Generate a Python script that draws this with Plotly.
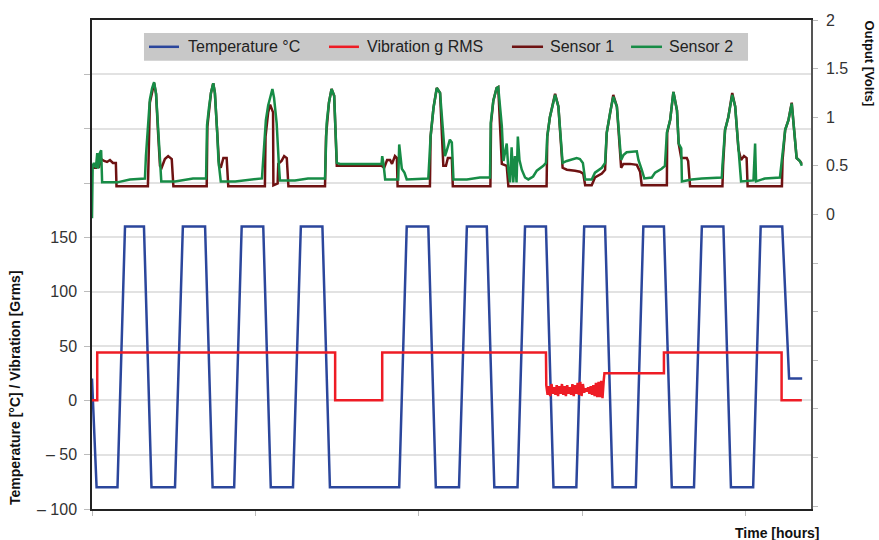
import plotly.graph_objects as go

# ---------------- data (time in hours) ----------------
temp_t = [0, 1.4, 7.8, 10.1, 15.9, 18.2, 25.4, 27.8, 34.6, 36.9, 43.5, 45.8, 52.4, 54.7,
          61.5, 63.9, 70.5, 72.8, 94.0, 96.3, 102.9, 105.2, 112.3, 114.7, 120.8, 123.1,
          130.2, 132.5, 138.9, 141.2, 148.2, 150.6, 157.0, 159.3, 166.4, 168.7, 175.0,
          177.4, 184.2, 186.6, 193.2, 195.5, 202.3, 204.6, 211.2, 213.3, 217.3]
temp_v = [20] + [-80, -80, 160, 160] * 11 + [20, 20]

vib_t_a = [0, 1.6, 1.6, 74.4, 74.4, 88.8, 88.8, 138.9]
vib_v_a = [0, 0, 44, 44, 0, 0, 44, 44]
vib_noise_t = [139.0, 139.4, 139.8, 140.2, 140.6, 141.0, 141.4, 141.8, 142.2, 142.6,
               143.0, 143.4, 143.8, 144.2, 144.6, 145.0, 145.4, 145.8, 146.2, 146.6,
               147.0, 147.4, 147.8, 148.2, 148.6, 149.0, 149.4, 149.8, 150.2, 150.6,
               151.0, 151.4, 151.8, 152.2, 152.6, 153.0, 153.4, 153.8, 154.2, 154.6,
               155.0, 155.4, 155.8, 156.2, 156.6]
vib_noise_v = [14, 5, 13, 4, 15, 6, 12, 5, 14, 4,
               13, 6, 15, 5, 13, 4, 14, 6, 12, 5,
               15, 4, 14, 6, 16, 5, 17, 4, 15, 7,
               11, 8, 12, 6, 13, 5, 14, 4, 16, 3,
               17, 3, 18, 2, 19]
vib_t_b = [156.8, 175.0, 175.0, 211.0, 211.0, 217.2]
vib_v_b = [25, 25, 44, 44, 0, 0]

s1_t = [0.2, 1.2, 1.7, 2.1, 2.8, 3.7, 4.6, 5.5, 6.4, 7.3,
        7.5, 17.1, 17.3, 17.7, 19.0, 19.6, 20.2, 20.8, 21.3, 22.3,
        23.3, 24.4, 24.9, 35.1, 35.3, 36.4, 37.1, 37.6, 38.3, 38.9,
        39.4, 40.2, 41.2, 41.7, 52.9, 53.1, 53.9, 54.5, 55.4, 55.5,
        56.8, 57.0, 58.0, 58.8, 59.6, 60.1, 71.3, 71.6, 72.5, 73.3,
        74.1, 74.9, 75.9, 88.6, 89.4, 90.3, 91.2, 91.8, 92.7, 93.3,
        93.5, 103.4, 103.6, 104.5, 105.5, 106.5, 107.5, 108.3, 108.9, 110.1,
        110.4, 121.9, 122.1, 122.8, 123.8, 124.3, 125.4, 126.9, 127.4, 139.1,
        139.3, 140.1, 141.7, 142.7, 144.0, 145.3, 147.8, 149.3, 150.3, 150.9,
        152.9, 153.9, 156.0, 157.0, 157.5, 158.5, 159.5, 160.6, 161.1, 161.9,
        162.6, 164.6, 166.7, 167.7, 168.2, 175.9, 176.0, 176.9, 177.9, 179.0,
        179.5, 180.3, 182.0, 182.4, 183.0, 192.9, 193.1, 193.7, 194.7, 195.9,
        196.8, 197.8, 198.6, 199.5, 200.3, 200.6, 211.1, 211.3, 212.1, 213.1,
        214.1, 215.1, 215.6, 216.6, 217.2]
s1_v = [0.48, 0.48, 0.56, 0.48, 0.57, 0.55, 0.54, 0.56, 0.53, 0.53,
        0.29, 0.29, 0.55, 1.15, 1.35, 1.24, 0.85, 0.50, 0.48, 0.57,
        0.60, 0.57, 0.29, 0.29, 0.90, 1.25, 1.35, 1.25, 0.85, 0.50,
        0.48, 0.58, 0.58, 0.29, 0.29, 0.80, 1.05, 1.13, 1.05, 0.30,
        0.32, 0.52, 0.55, 0.60, 0.58, 0.29, 0.29, 0.80, 1.15, 1.29,
        1.22, 0.50, 0.50, 0.50, 0.48, 0.56, 0.56, 0.52, 0.60, 0.58,
        0.29, 0.29, 0.80, 1.10, 1.30, 1.25, 0.50, 0.50, 0.58, 0.58,
        0.29, 0.29, 0.94, 1.17, 1.30, 1.31, 0.52, 0.50, 0.29, 0.29,
        0.80, 1.00, 1.24, 1.11, 0.48, 0.46, 0.45, 0.44, 0.42, 0.30,
        0.30, 0.38, 0.42, 0.46, 0.84, 1.04, 1.23, 1.11, 0.90, 0.48,
        0.52, 0.52, 0.51, 0.44, 0.30, 0.30, 0.84, 0.97, 1.26, 1.07,
        0.73, 0.58, 0.58, 0.55, 0.29, 0.29, 0.50, 0.87, 1.00, 1.25,
        1.11, 0.67, 0.56, 0.60, 0.58, 0.29, 0.29, 0.56, 0.87, 0.97,
        1.15, 0.77, 0.58, 0.55, 0.52]

s2_t = [0.0, 0.2, 0.6, 1.2, 1.6, 1.9, 2.4, 2.8, 3.1, 7.7,
        11.6, 16.2, 16.5, 17.1, 17.7, 18.4, 19.0, 19.6, 20.2, 20.8,
        21.2, 25.4, 30.9, 34.9, 35.2, 35.8, 36.4, 37.1, 37.6, 38.3,
        38.7, 39.4, 43.8, 52.0, 52.4, 53.2, 53.9, 55.2, 55.7, 56.5,
        57.2, 57.5, 62.1, 66.1, 71.3, 71.8, 72.5, 73.3, 74.1, 74.9,
        75.9, 88.6, 88.8, 89.2, 89.7, 93.7, 94.0, 94.8, 95.6, 96.3,
        102.9, 103.6, 104.5, 105.5, 106.5, 107.5, 108.0, 108.5, 109.5, 110.1,
        110.6, 114.7, 118.7, 121.8, 122.0, 122.8, 123.8, 124.3, 125.4, 125.9,
        126.4, 126.9, 127.4, 127.9, 128.4, 128.9, 129.4, 129.9, 130.3, 130.8,
        131.5, 132.5, 133.5, 135.0, 136.1, 138.1, 138.9, 139.3, 140.1, 141.7,
        142.7, 144.0, 145.3, 146.3, 148.3, 149.3, 150.2, 150.9, 152.9, 153.9,
        156.0, 157.0, 157.5, 158.5, 159.5, 160.6, 161.1, 161.9, 162.6, 163.6,
        166.7, 167.2, 168.2, 169.0, 171.3, 172.3, 174.3, 175.3, 175.9, 176.9,
        177.9, 179.0, 179.5, 180.3, 180.5, 183.5, 186.6, 192.7, 192.9, 193.7,
        194.7, 195.9, 196.8, 197.8, 198.3, 198.6, 202.4, 202.9, 203.2, 205.9,
        210.5, 211.1, 212.1, 213.1, 214.1, 215.1, 215.6, 216.6, 217.2]
s2_v = [-0.04, 0.50, 0.53, 0.48, 0.63, 0.47, 0.63, 0.66, 0.33, 0.33,
        0.36, 0.37, 0.60, 0.87, 1.18, 1.30, 1.36, 1.24, 0.85, 0.50,
        0.34, 0.34, 0.37, 0.37, 0.92, 1.10, 1.25, 1.35, 1.25, 0.85,
        0.55, 0.34, 0.34, 0.37, 0.55, 0.97, 1.12, 1.29, 1.20, 0.94,
        0.50, 0.35, 0.35, 0.37, 0.37, 0.94, 1.15, 1.29, 1.22, 0.53,
        0.52, 0.52, 0.60, 0.52, 0.36, 0.36, 0.72, 0.47, 0.43, 0.36,
        0.37, 0.80, 1.10, 1.30, 1.25, 0.77, 0.60, 0.65, 0.77, 0.74,
        0.36, 0.36, 0.38, 0.38, 0.94, 1.17, 1.30, 1.31, 0.91, 0.55,
        0.65, 0.73, 0.45, 0.33, 0.69, 0.33, 0.60, 0.33, 0.80, 0.56,
        0.46, 0.38, 0.36, 0.39, 0.45, 0.50, 0.53, 0.80, 1.00, 1.23,
        1.11, 0.53, 0.55, 0.56, 0.58, 0.57, 0.53, 0.36, 0.36, 0.43,
        0.48, 0.53, 0.84, 1.04, 1.21, 1.11, 0.90, 0.56, 0.61, 0.64,
        0.65, 0.56, 0.46, 0.37, 0.38, 0.43, 0.47, 0.50, 0.84, 0.97,
        1.26, 1.07, 0.73, 0.68, 0.34, 0.36, 0.37, 0.38, 0.50, 0.87,
        1.00, 1.23, 1.11, 0.67, 0.53, 0.34, 0.35, 0.73, 0.34, 0.37,
        0.38, 0.56, 0.87, 0.97, 1.14, 0.77, 0.58, 0.55, 0.50]

series_names = ["Temperature °C", "Vibration g RMS", "Sensor 1", "Sensor 2"]
series_colors = ["#2b469c", "#ee1c25", "#6e1212", "#178c46"]

left_ticks = [-100, -50, 0, 50, 100, 150, 200, 250, 300]
left_labels = ["\u2013 100", "\u2013 50", "0", "50", "100", "150", "", "", ""]
right_ticks = [-3, -2.5, -2, -1.5, -1, -0.5, 0, 0.5, 1, 1.5, 2]
right_labels = ["", "", "", "", "", "", "0", "0.5", "1", "1.5", "2"]
time_ticks = [0, 50, 100, 150, 200]

assert len(temp_t) == len(temp_v)
assert len(vib_noise_t) == len(vib_noise_v)
assert len(s1_t) == len(s1_v)
assert len(s2_t) == len(s2_v)

vib_t = vib_t_a + vib_noise_t + vib_t_b
vib_v = vib_v_a + vib_noise_v + vib_v_b

FONT = "Liberation Sans, Arial, sans-serif"

fig = go.Figure()
fig.add_trace(go.Scatter(x=temp_t, y=temp_v, name=series_names[0], mode="lines",
                         line=dict(color=series_colors[0], width=2.5)))
fig.add_trace(go.Scatter(x=vib_t, y=vib_v, name=series_names[1], mode="lines",
                         line=dict(color=series_colors[1], width=2.5)))
fig.add_trace(go.Scatter(x=s1_t, y=s1_v, name=series_names[2], mode="lines", yaxis="y2",
                         line=dict(color=series_colors[2], width=2.5)))
fig.add_trace(go.Scatter(x=s2_t, y=s2_v, name=series_names[3], mode="lines", yaxis="y2",
                         line=dict(color=series_colors[3], width=2.5)))

# ---- legend drawn as a grey box with swatches and texts (paper coordinates) ----
legend_box = dict(x0=0.0723, x1=0.9124, y0=0.9168, y1=0.9736)
legend_y = 0.9452
swatch_x = [(0.0793, 0.1210), (0.3296, 0.3713), (0.5841, 0.6273), (0.7497, 0.7928)]
label_x = [0.1307, 0.3797, 0.6342, 0.7997]

shapes = [dict(type="rect", xref="paper", yref="paper", layer="above",
               fillcolor="#c8c8c8", line=dict(width=0), **legend_box)]
annotations = []
for (sx0, sx1), lx, name, col in zip(swatch_x, label_x, series_names, series_colors):
    shapes.append(dict(type="line", xref="paper", yref="paper", layer="above",
                       x0=sx0, x1=sx1, y0=legend_y, y1=legend_y,
                       line=dict(color=col, width=2.5)))
    annotations.append(dict(text=name, xref="paper", yref="paper", x=lx, y=legend_y,
                            xanchor="left", yanchor="middle", showarrow=False,
                            font=dict(size=16, color="#222222")))

annotations += [
    dict(text="<b>Time [hours]</b>", xref="paper", yref="paper",
         x=0.954, y=-0.0487, xanchor="center", yanchor="middle",
         showarrow=False, font=dict(size=14, color="#111111")),
    dict(text="<b>Temperature [°C] / Vibration [Grms]</b>", xref="paper", yref="paper",
         x=-0.1071, y=0.2495, xanchor="center", yanchor="middle", textangle=-90,
         showarrow=False, font=dict(size=14, color="#111111")),
    dict(text="<b>Output [Volts]</b>", xref="paper", yref="paper",
         x=1.0807, y=0.9108, xanchor="center", yanchor="middle", textangle=90,
         showarrow=False, font=dict(size=13, color="#111111")),
]

fig.update_layout(
    width=879, height=540,
    margin=dict(l=92, r=68, t=16, b=31),
    paper_bgcolor="white", plot_bgcolor="white",
    font=dict(family=FONT, color="#333333"),
    showlegend=False,
    xaxis=dict(range=[0, 220], tickvals=time_ticks, showticklabels=False,
               ticks="outside", ticklen=5, tickcolor="#bbbbbb",
               showline=True, linecolor="#222222", linewidth=1.5, mirror=True,
               showgrid=False, zeroline=False),
    yaxis=dict(range=[-100, 350], tickvals=left_ticks, ticktext=left_labels,
               ticks="outside", ticklen=6, tickcolor="#bbbbbb",
               ticklabelstandoff=4,
               tickfont=dict(size=16, color="#333333"),
               showgrid=True, gridcolor="#e2e2e2", gridwidth=1.5,
               showline=True, linecolor="#222222", linewidth=1.5,
               zeroline=False),
    yaxis2=dict(range=[-3.03, 2], overlaying="y", side="right",
                tickvals=right_ticks, ticktext=right_labels,
                ticks="outside", ticklen=5, tickcolor="#bbbbbb",
                ticklabelstandoff=5,
                tickfont=dict(size=16, color="#333333"),
                showgrid=False, zeroline=False,
                showline=True, linecolor="#555555", linewidth=1.5),
    shapes=shapes,
    annotations=annotations,
)

fig.write_html("out.html", config={"displayModeBar": False},
               post_script="document.body.style.margin='0px';")
